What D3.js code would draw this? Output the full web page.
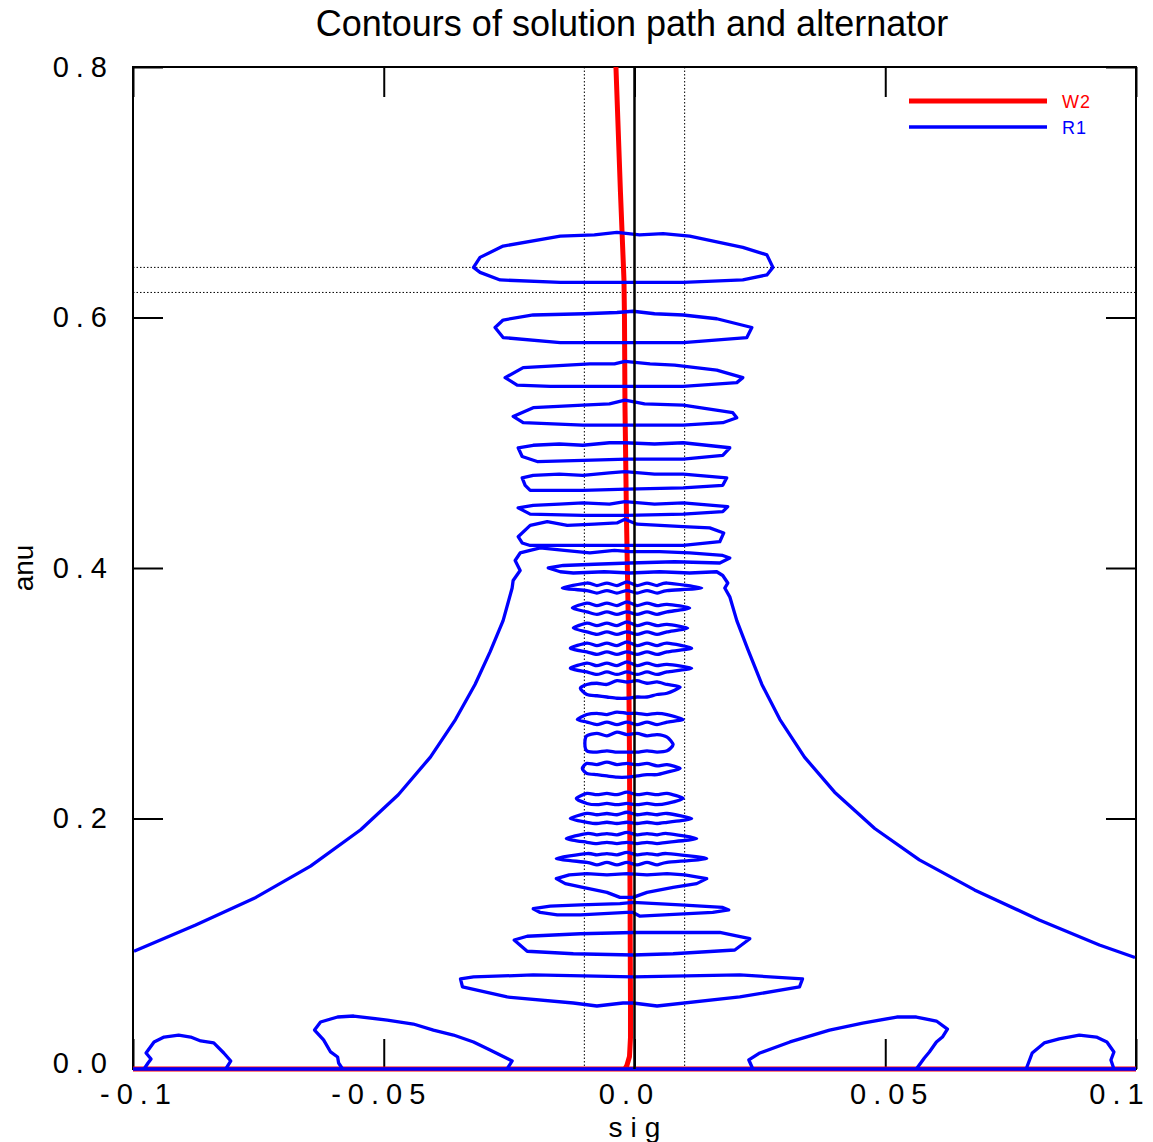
<!DOCTYPE html>
<html>
<head>
<meta charset="utf-8">
<script src="https://cdn.jsdelivr.net/npm/d3@7"></script>
<style>
  body { margin: 0; background: #fff; }
  text { font-family: "Liberation Sans", Arial, Helvetica, sans-serif; }
</style>
</head>
<body>
<svg id="chart" width="1153" height="1142"></svg>
<script>
// ---- axes ----
const sigDomain = [-0.1, 0.1];
const anuDomain = [0.0, 0.8];
const sigTicks = [-0.1, -0.05, 0.0, 0.05, 0.1];
const sigTickLabels = ["-0.1", "-0.05", "0.0", "0.05", "0.1"];
const anuTicks = [0.0, 0.2, 0.4, 0.6, 0.8];
const anuTickLabels = ["0.0", "0.2", "0.4", "0.6", "0.8"];
const sigGuides = [-0.01, 0.01];   // dotted vertical guides
const anuGuides = [0.62, 0.64];    // dotted horizontal guides

// ---- W2: solution path (sig, anu) ----
const w2Path = [
  [-0.0037, 0.800], [-0.0028, 0.700], [-0.0021, 0.630], [-0.0020, 0.600],
  [-0.0019, 0.530], [-0.0016, 0.440], [-0.0012, 0.350], [-0.0010, 0.250],
  [-0.0009, 0.150], [-0.0008, 0.050], [-0.0008, 0.025], [-0.0010, 0.010],
  [-0.0015, 0.003], [-0.0019, 0.000]
];
const w2Base = [[-0.1, 0.0], [0.1, 0.0]];

// ---- R1: alternator contours ----
const r1Base = [[-0.1, 0.0], [0.1, 0.0]];

// outer folded contour, left branch -> fold -> right branch
const r1Outer = [
  [-0.0998, 0.094], [-0.0875, 0.115], [-0.0755, 0.137], [-0.0646, 0.162],
  [-0.0546, 0.191], [-0.0471, 0.219], [-0.0407, 0.249], [-0.0357, 0.279],
  [-0.0318, 0.307], [-0.0288, 0.333], [-0.0262, 0.358], [-0.0244, 0.384],
  [-0.0242, 0.390], [-0.0228, 0.398], [-0.0238, 0.406], [-0.0228, 0.412],
  [-0.0208, 0.414], [-0.0188, 0.416], [-0.0140, 0.414], [-0.0089, 0.412],
  [-0.0040, 0.414], [-0.0009, 0.413], [0.0050, 0.413], [0.0110, 0.412],
  [0.0176, 0.410], [0.0190, 0.408], [0.0170, 0.404], [0.0080, 0.405],
  [-0.0009, 0.404], [-0.0080, 0.403], [-0.0142, 0.402], [-0.0172, 0.400],
  [-0.0148, 0.397], [-0.0122, 0.396], [-0.0060, 0.397], [-0.0009, 0.396],
  [0.0050, 0.397], [0.0110, 0.396], [0.0164, 0.397], [0.0176, 0.394],
  [0.0186, 0.388], [0.0180, 0.384], [0.0190, 0.377], [0.0204, 0.358],
  [0.0226, 0.335], [0.0254, 0.307], [0.0290, 0.279], [0.0339, 0.249],
  [0.0399, 0.221], [0.0479, 0.192], [0.0568, 0.167], [0.0678, 0.143],
  [0.0807, 0.119], [0.0927, 0.099], [0.0998, 0.089]
];

// wide closed rings
const ringA = [[-0.0321,0.640],[-0.0308,0.648],[-0.0262,0.657],[-0.0148,0.665],[-0.0080,0.666],[-0.0035,0.668],[0.0010,0.666],[0.0057,0.667],[0.0110,0.665],[0.0216,0.656],[0.0264,0.650],[0.0276,0.640],[0.0264,0.634],[0.0216,0.630],[0.0097,0.628],[-0.0003,0.628],[-0.0148,0.628],[-0.0268,0.630],[-0.0308,0.636]];
const ringB = [[-0.0278,0.592],[-0.0262,0.598],[-0.0202,0.602],[-0.0100,0.603],[-0.0035,0.604],[-0.0003,0.605],[0.0040,0.603],[0.0097,0.602],[0.0164,0.599],[0.0234,0.592],[0.0224,0.584],[0.0097,0.580],[-0.0003,0.580],[-0.0148,0.580],[-0.0262,0.584]];
const ringC = [[-0.0258,0.552],[-0.0222,0.560],[-0.0089,0.563],[-0.0040,0.563],[-0.0019,0.565],[0.0031,0.563],[0.0080,0.562],[0.0164,0.558],[0.0216,0.552],[0.0204,0.548],[0.0097,0.545],[-0.0003,0.545],[-0.0168,0.545],[-0.0234,0.546]];
const ringD = [[-0.0242,0.521],[-0.0202,0.528],[-0.0103,0.530],[-0.0050,0.531],[-0.0019,0.534],[0.0020,0.531],[0.0097,0.530],[0.0196,0.524],[0.0204,0.520],[0.0176,0.516],[0.0097,0.514],[-0.0015,0.514],[-0.0103,0.514],[-0.0222,0.516]];
const ringE = [[-0.0232,0.496],[-0.0202,0.498],[-0.0150,0.499],[-0.0103,0.498],[-0.0050,0.500],[-0.0019,0.500],[0.0040,0.499],[0.0097,0.500],[0.0190,0.496],[0.0176,0.490],[0.0097,0.487],[-0.0015,0.487],[-0.0103,0.486],[-0.0194,0.485],[-0.0224,0.489]];
const ringF = [[-0.0224,0.472],[-0.0202,0.474],[-0.0150,0.475],[-0.0103,0.474],[-0.0050,0.476],[-0.0019,0.477],[0.0040,0.475],[0.0097,0.475],[0.0184,0.472],[0.0176,0.466],[0.0097,0.464],[-0.0015,0.463],[-0.0103,0.462],[-0.0208,0.462],[-0.0218,0.466]];
const ringG = [[-0.0232,0.448],[-0.0202,0.450],[-0.0150,0.451],[-0.0103,0.452],[-0.0050,0.451],[-0.0019,0.453],[0.0040,0.451],[0.0097,0.452],[0.0186,0.449],[0.0176,0.445],[0.0097,0.443],[-0.0015,0.442],[-0.0103,0.442],[-0.0208,0.443]];
const ringH = [[-0.0232,0.425],[-0.0208,0.434],[-0.0174,0.437],[-0.0134,0.434],[-0.0080,0.435],[-0.0035,0.436],[-0.0019,0.439],[0.0005,0.435],[0.0097,0.433],[0.0150,0.432],[0.0178,0.428],[0.0170,0.421],[0.0097,0.418],[-0.0015,0.418],[-0.0103,0.418],[-0.0154,0.418],[-0.0208,0.418],[-0.0224,0.420]];
const ringW = [[-0.0156,0.152],[-0.0130,0.155],[-0.0095,0.156],[-0.0055,0.155],[-0.0015,0.156],[0.0025,0.155],[0.0065,0.156],[0.0100,0.155],[0.0144,0.152],[0.0124,0.148],[0.0077,0.145],[0.0025,0.141],[-0.0003,0.137],[-0.0029,0.137],[-0.0055,0.141],[-0.0103,0.145],[-0.0138,0.148]];
const ringX = [[-0.0202,0.128],[-0.0168,0.130],[-0.0108,0.131],[-0.0029,0.132],[-0.0003,0.133],[0.0091,0.131],[0.0176,0.129],[0.0188,0.127],[0.0156,0.125],[0.0011,0.122],[-0.0003,0.125],[-0.0015,0.125],[-0.0108,0.123],[-0.0154,0.123],[-0.0188,0.125]];
const ringY = [[-0.0240,0.103],[-0.0214,0.106],[-0.0108,0.108],[-0.0003,0.109],[0.0170,0.109],[0.0230,0.104],[0.0200,0.095],[0.0077,0.092],[-0.0003,0.091],[-0.0122,0.092],[-0.0214,0.094]];
const ringZ = [[-0.0347,0.072],[-0.0343,0.0655],[-0.0254,0.0575],[-0.0122,0.0527],[-0.0075,0.0503],[-0.0023,0.0527],[-0.0003,0.0527],[0.0045,0.0503],[0.0210,0.0575],[0.0329,0.0655],[0.0335,0.072],[0.0210,0.0751],[-0.0003,0.0735],[-0.0202,0.0751],[-0.0321,0.0735]];

// humps sitting on anu = 0
const humpL1 = [[-0.0978,0],[-0.0970,0.0048],[-0.0964,0.0080],[-0.0974,0.0128],[-0.0958,0.0216],[-0.0938,0.0255],[-0.0909,0.0271],[-0.0885,0.0255],[-0.0865,0.0224],[-0.0839,0.0208],[-0.0819,0.0128],[-0.0805,0.0064],[-0.0815,0]];
const humpL2 = [[-0.0582,0],[-0.0590,0.0048],[-0.0592,0.0096],[-0.0606,0.0136],[-0.0620,0.0232],[-0.0638,0.0311],[-0.0626,0.0375],[-0.0592,0.0415],[-0.0560,0.0423],[-0.0493,0.0391],[-0.0441,0.0359],[-0.0401,0.0311],[-0.0361,0.0271],[-0.0321,0.0216],[-0.0288,0.0152],[-0.0244,0.0064],[-0.0254,0]];
const humpR2 = [[0.0236,0],[0.0228,0.0072],[0.0250,0.0128],[0.0310,0.0216],[0.0389,0.0311],[0.0455,0.0367],[0.0523,0.0415],[0.0562,0.0415],[0.0602,0.0383],[0.0624,0.0319],[0.0614,0.0255],[0.0602,0.0216],[0.0588,0.0136],[0.0578,0.0088],[0.0562,0]];
const humpR1 = [[0.0781,0],[0.0793,0.0128],[0.0817,0.0208],[0.0847,0.0240],[0.0887,0.0271],[0.0921,0.0255],[0.0942,0.0216],[0.0956,0.0136],[0.0950,0.0072],[0.0956,0]];

// narrow wavy rings sampled on a shared sig grid
const loopSig = [-0.0095, -0.0075, -0.0055, -0.0035, -0.0015, 0.0005, 0.0025, 0.0045, 0.0065];
const wavyRings = [
  { left: [-0.0144, 0.384], right: [0.0134, 0.384],
    top: [0.388,0.386,0.388,0.386,0.389,0.386,0.388,0.386,0.388], bottom: [0.382,0.380,0.382,0.380,0.382,0.380,0.382,0.380,0.382] },
  { left: [-0.0124, 0.368], right: [0.0110, 0.368],
    top: [0.372,0.370,0.372,0.370,0.373,0.370,0.372,0.370,0.371], bottom: [0.365,0.363,0.365,0.363,0.365,0.363,0.365,0.363,0.365] },
  { left: [-0.0122, 0.352], right: [0.0106, 0.352],
    top: [0.356,0.354,0.356,0.354,0.357,0.354,0.356,0.354,0.355], bottom: [0.349,0.347,0.349,0.347,0.349,0.347,0.349,0.347,0.349] },
  { left: [-0.0128, 0.336], right: [0.0114, 0.336],
    top: [0.340,0.338,0.340,0.338,0.341,0.338,0.340,0.338,0.340], bottom: [0.333,0.331,0.333,0.331,0.333,0.331,0.333,0.331,0.333] },
  { left: [-0.0128, 0.320], right: [0.0114, 0.320],
    top: [0.324,0.322,0.324,0.322,0.325,0.322,0.324,0.322,0.323], bottom: [0.317,0.315,0.317,0.315,0.317,0.315,0.317,0.315,0.317] },
  { left: [-0.0108, 0.304], right: [0.0091, 0.305],
    top: [0.307,0.308,0.307,0.310,0.309,0.310,0.308,0.309,0.307], bottom: [0.299,0.298,0.297,0.296,0.296,0.297,0.297,0.299,0.300] },
  { left: [-0.0114, 0.279], right: [0.0097, 0.279],
    top: [0.283,0.284,0.283,0.285,0.284,0.284,0.283,0.284,0.283], bottom: [0.277,0.275,0.277,0.275,0.277,0.275,0.277,0.275,0.277] },
  { left: [-0.0099, 0.260], right: [0.0077, 0.259],
    top: [0.266,0.268,0.266,0.269,0.267,0.268,0.266,0.267,0.265], bottom: [0.254,0.253,0.254,0.253,0.253,0.253,0.254,0.253,0.254] },
  { left: [-0.0104, 0.240], right: [0.0091, 0.240],
    top: [0.244,0.243,0.245,0.243,0.244,0.243,0.244,0.242,0.243], bottom: [0.236,0.235,0.234,0.233,0.233,0.234,0.235,0.235,0.237] },
  { left: [-0.0116, 0.216], right: [0.0097, 0.216],
    top: [0.220,0.219,0.220,0.219,0.221,0.219,0.220,0.219,0.220], bottom: [0.212,0.211,0.212,0.211,0.212,0.211,0.212,0.211,0.212] },
  { left: [-0.0128, 0.200], right: [0.0114, 0.200],
    top: [0.204,0.203,0.204,0.203,0.205,0.203,0.204,0.203,0.204], bottom: [0.197,0.196,0.197,0.196,0.197,0.196,0.197,0.196,0.197] },
  { left: [-0.0136, 0.184], right: [0.0124, 0.184],
    top: [0.188,0.187,0.188,0.187,0.189,0.187,0.188,0.187,0.188], bottom: [0.181,0.180,0.181,0.180,0.181,0.180,0.181,0.180,0.181] },
  { left: [-0.0156, 0.168], right: [0.0144, 0.168],
    top: [0.172,0.171,0.172,0.171,0.173,0.171,0.172,0.171,0.172], bottom: [0.165,0.163,0.165,0.163,0.165,0.163,0.165,0.163,0.165] }
];

const legendItems = [
  { name: "W2", color: "#ff0000", width: 5 },
  { name: "R1", color: "#0000ff", width: 3.5 }
];

// ---- layout ----
const svg = d3.select("#chart");
const plot = { left: 133, right: 1136, top: 67, bottom: 1069 };
const x = d3.scaleLinear().domain(sigDomain).range([plot.left, plot.right]);
const y = d3.scaleLinear().domain(anuDomain).range([plot.bottom, plot.top]);

svg.append("rect").attr("width", 1153).attr("height", 1142).attr("fill", "#fff");

svg.append("defs").append("clipPath").attr("id", "plotClip")
  .append("rect")
  .attr("x", plot.left - 2).attr("y", plot.top - 2)
  .attr("width", plot.right - plot.left + 4).attr("height", plot.bottom - plot.top + 6);

// dotted guides
const guides = svg.append("g").attr("stroke", "#000").attr("stroke-width", 1).attr("stroke-dasharray", "1.5,2");
guides.selectAll("line.v").data(sigGuides).join("line").attr("class", "v")
  .attr("x1", d => x(d)).attr("x2", d => x(d)).attr("y1", plot.top).attr("y2", plot.bottom);
guides.selectAll("line.h").data(anuGuides).join("line").attr("class", "h")
  .attr("y1", d => y(d)).attr("y2", d => y(d)).attr("x1", plot.left).attr("x2", plot.right);

// frame
svg.append("rect")
  .attr("x", plot.left).attr("y", plot.top)
  .attr("width", plot.right - plot.left).attr("height", plot.bottom - plot.top)
  .attr("fill", "none").attr("stroke", "#000").attr("stroke-width", 2);

// axes with inward ticks
const tickLen = 30;
const spacing = 7;
const tickFont = 29;
const sigLabelNudge = [2, -6, -9, 3, -20];   // horizontal label offsets, px
function styleAxis(g) {
  g.select(".domain").remove();
  g.selectAll(".tick line").attr("stroke", "#000").attr("stroke-width", 2);
  g.selectAll(".tick text").attr("fill", "#000").attr("font-size", tickFont).attr("letter-spacing", spacing)
    .style("font-family", "'Liberation Sans', Arial, sans-serif");
}
const gBottom = svg.append("g").attr("transform", `translate(0,${plot.bottom})`)
  .call(d3.axisBottom(x).tickValues(sigTicks).tickFormat((d, i) => sigTickLabels[i])
    .tickSizeInner(-tickLen).tickSizeOuter(0).tickPadding(14))
  .call(styleAxis);
gBottom.selectAll(".tick text").attr("dx", (d, i) => spacing / 2 + sigLabelNudge[i]);

svg.append("g").attr("transform", `translate(0,${plot.top})`)
  .call(d3.axisTop(x).tickValues(sigTicks).tickFormat("").tickSizeInner(-tickLen).tickSizeOuter(0))
  .call(styleAxis);

const gLeft = svg.append("g").attr("transform", `translate(${plot.left},0)`)
  .call(d3.axisLeft(y).tickValues(anuTicks).tickFormat((d, i) => anuTickLabels[i])
    .tickSizeInner(-tickLen).tickSizeOuter(0).tickPadding(19))
  .call(styleAxis);
gLeft.selectAll(".tick text").filter(d => d === 0).attr("y", -6);

svg.append("g").attr("transform", `translate(${plot.right},0)`)
  .call(d3.axisRight(y).tickValues(anuTicks).tickFormat("").tickSizeInner(-tickLen).tickSizeOuter(0))
  .call(styleAxis);

// axis titles
svg.append("text").attr("x", x(0) + 4).attr("y", 1137).attr("text-anchor", "middle")
  .attr("font-size", 28).attr("letter-spacing", 8).text("sig");
svg.append("text").attr("transform", `translate(33,${y(0.4)}) rotate(-90)`).attr("text-anchor", "middle")
  .attr("font-size", 28).text("anu");

svg.append("text").attr("x", 632).attr("y", 36).attr("text-anchor", "middle")
  .attr("font-size", 36).text("Contours of solution path and alternator");

// ---- marks ----
const line = d3.line().x(d => x(d[0])).y(d => y(d[1]));
const closed = d3.line().x(d => x(d[0])).y(d => y(d[1])).curve(d3.curveLinearClosed);
const smoothClosed = d3.line().x(d => x(d[0])).y(d => y(d[1])).curve(d3.curveCardinalClosed.tension(0.3));
const marks = svg.append("g").attr("clip-path", "url(#plotClip)");

// W2 path
marks.append("path").datum(w2Base).attr("d", line)
  .attr("fill", "none").attr("stroke", "#ff0000").attr("stroke-width", 5);
marks.append("path").datum(w2Path).attr("d", line)
  .attr("fill", "none").attr("stroke", "#ff0000").attr("stroke-width", 5).attr("stroke-linejoin", "round");

// R1 contours
const r1 = marks.append("g").attr("fill", "none").attr("stroke", "#0000ff")
  .attr("stroke-width", 3.3).attr("stroke-linejoin", "round");
r1.append("path").datum(r1Base).attr("d", line);
[r1Outer, humpL1, humpL2, humpR2, humpR1].forEach(p => r1.append("path").datum(p).attr("d", line));
[ringA, ringB, ringC, ringD, ringE, ringF, ringG, ringH, ringW, ringX, ringY, ringZ]
  .forEach(p => r1.append("path").datum(p).attr("d", closed));
wavyRings.forEach(r => {
  const pts = [r.left]
    .concat(loopSig.map((s, i) => [s, r.top[i]]))
    .concat([r.right])
    .concat(loopSig.map((s, i) => [s, r.bottom[i]]).reverse());
  r1.append("path").datum(pts).attr("d", smoothClosed);
});

// sig = 0 reference line
marks.append("line").attr("x1", x(0)).attr("x2", x(0)).attr("y1", plot.top).attr("y2", plot.bottom)
  .attr("stroke", "#000").attr("stroke-width", 2.5);

// legend
const legend = svg.append("g");
legendItems.forEach((it, i) => {
  const ly = 101 + i * 26;
  legend.append("line").attr("x1", 909).attr("x2", 1047).attr("y1", ly).attr("y2", ly)
    .attr("stroke", it.color).attr("stroke-width", it.width);
  legend.append("text").attr("x", 1062).attr("y", ly + 7).attr("font-size", 18)
    .attr("letter-spacing", 1).attr("fill", it.color).text(it.name);
});
</script>
</body>
</html>
